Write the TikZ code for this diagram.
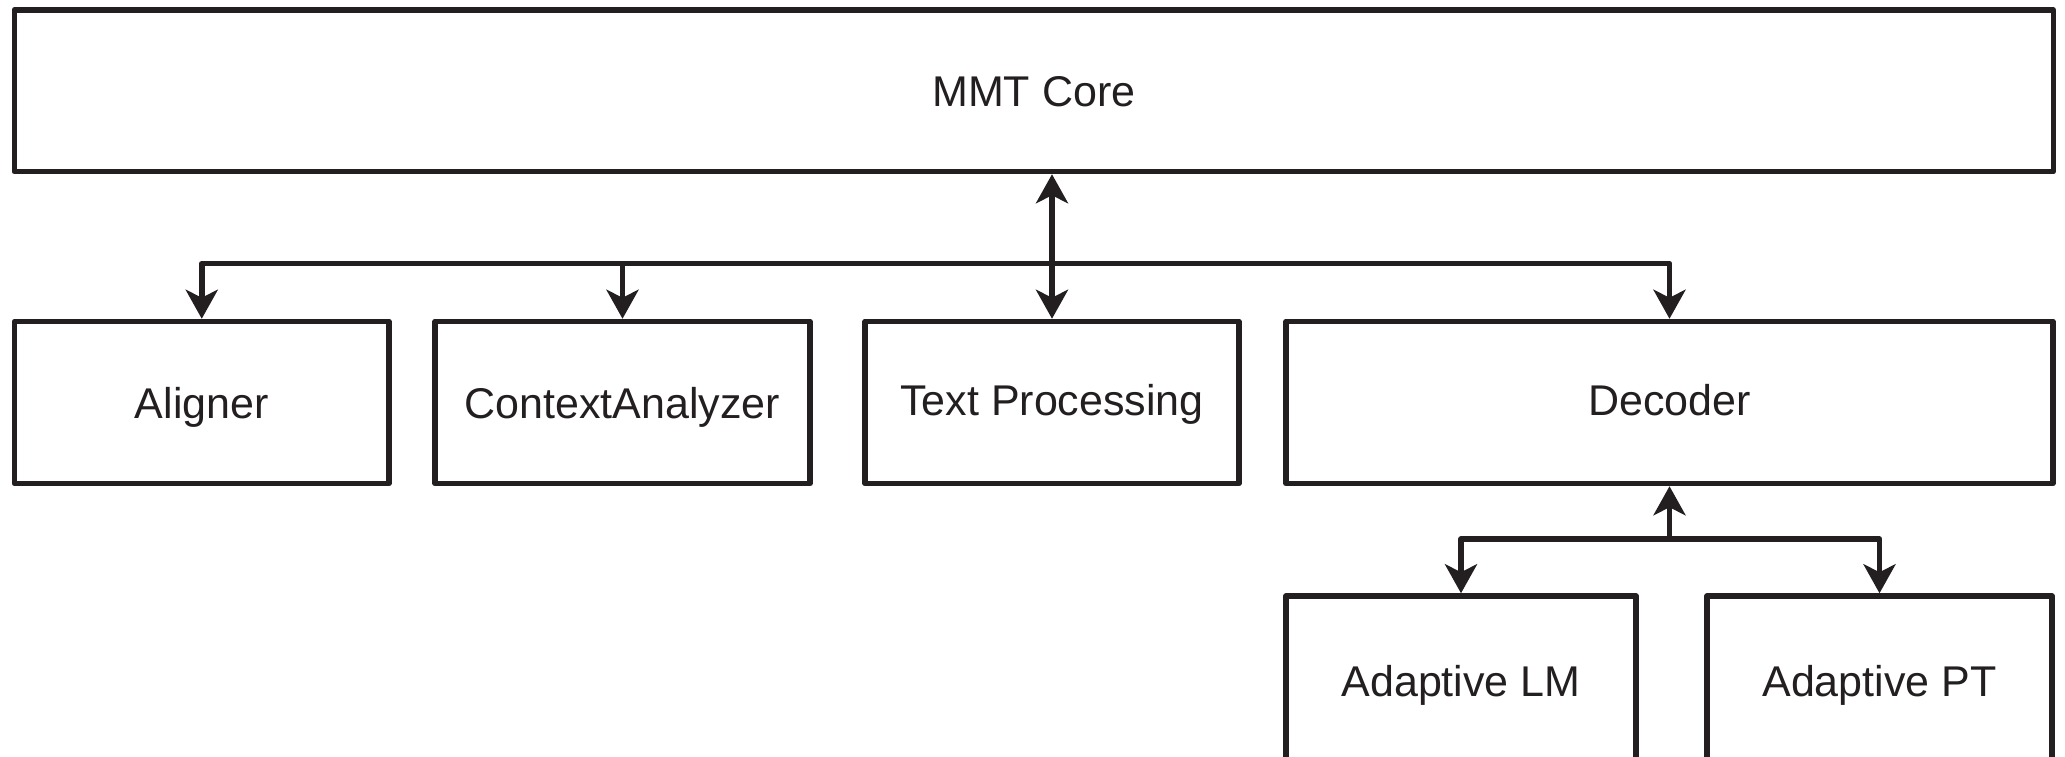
\documentclass[tikz,border=0pt]{standalone}
\usepackage{fontspec}
\setmainfont{Liberation Sans}
\usetikzlibrary{arrows.meta}
\definecolor{ink}{RGB}{35,31,32}
\tikzset{
  box/.style={draw=ink, line width=5.5pt, line join=round, rectangle, inner sep=0pt,
    font=\fontsize{43}{50}\selectfont, text=ink, text height=31pt, text depth=0pt},
  raised/.style={text depth=6pt},
  tip/.style={},
  conn/.style={draw=ink, line width=5.5pt, line join=round, -{Stealth[length=29pt, width=32pt, inset=8pt]}},
  conn2/.style={draw=ink, line width=5.5pt, {Stealth[length=29pt, width=32pt, inset=8pt]}-{Stealth[length=29pt, width=32pt, inset=8pt]}}
}
\begin{document}
\begin{tikzpicture}[x=1pt, y=-1pt]
\useasboundingbox (0,0) rectangle (2065,756);
\clip (0,0) rectangle (2065,756);
\fill[white] (0,0) rectangle (2065,756);
% boxes
\node[box, minimum width=2039pt, minimum height=161.5pt] (core) at (1033.75,90.75) {MMT Core};
\node[box, minimum width=374.5pt, minimum height=162pt] (al) at (201.75,402.5) {Aligner};
\node[box, minimum width=375pt, minimum height=162pt] (ca) at (622.5,402.5) {ContextAnalyzer};
\node[box, raised, minimum width=374pt, minimum height=162pt] (tp) at (1052,402.5) {Text Processing};
\node[box, raised, minimum width=767pt, minimum height=162pt] (dec) at (1669.5,402.5) {Decoder};
\node[box, minimum width=350pt, minimum height=170pt] (alm) at (1461,681) {Adaptive LM};
\node[box, minimum width=345pt, minimum height=170pt] (apt) at (1879.5,681) {Adaptive PT};
% buses
\coordinate (bus) at (0,263.5);
\coordinate (sbus) at (0,539);
\draw[conn] (bus -| tp.north) -| (al.north);
\draw[conn] (bus -| tp.north) -| (ca.north);
\draw[conn] (bus -| tp.north) -| (dec.north);
\draw[conn2] (core.south -| tp.north) -- (tp.north);
\draw[conn] (sbus -| dec.south) -| (alm.north);
\draw[conn] (sbus -| dec.south) -| (apt.north);
\draw[conn] (sbus -| dec.south) -- (dec.south);
\end{tikzpicture}
\end{document}
